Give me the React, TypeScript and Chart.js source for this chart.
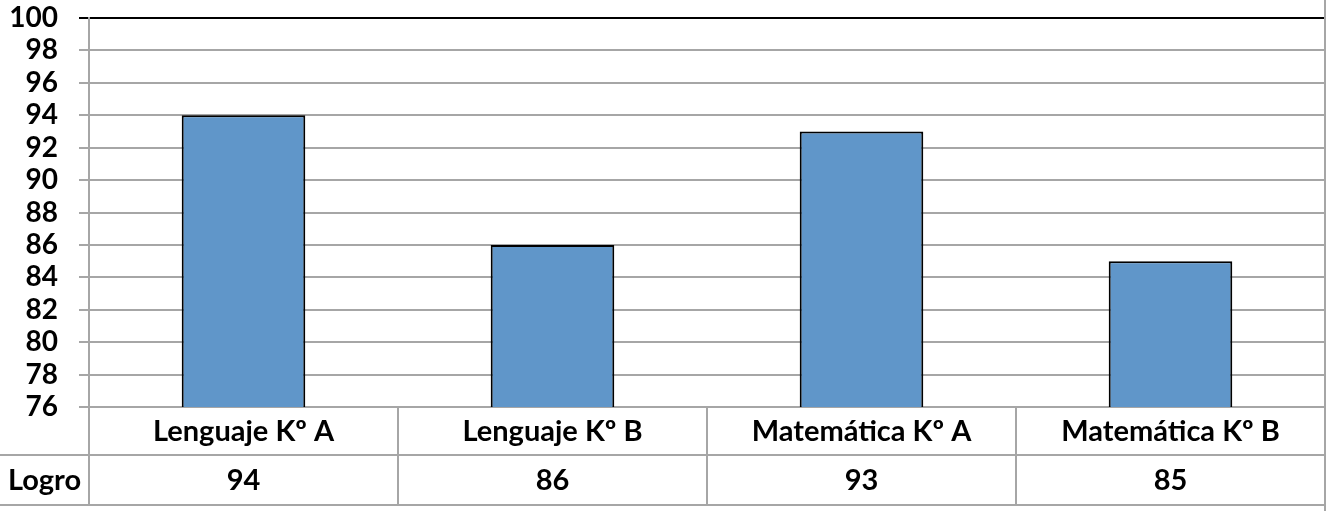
import React, { useEffect, useRef } from "react";
import { Chart, registerables } from "chart.js";

Chart.register(...registerables);

const categories = ["Lenguaje Kº A", "Lenguaje Kº B", "Matemática Kº A", "Matemática Kº B"];
const seriesName = "Logro";
const logro = [94, 86, 93, 85];
const yMin = 76;
const yMax = 100;
const yStep = 2;

const FONT = "Lato, 'Noto Sans', sans-serif";
const GRID = "#A6A6A6";

const dataTablePlugin = {
  id: "dataTable",
  afterDraw(chart: any) {
    const { ctx, chartArea } = chart;
    const xs = chart.scales.x;
    const n = categories.length;
    const centers = categories.map((_, i) => xs.getPixelForValue(i));
    const bounds: number[] = [chartArea.left];
    for (let i = 0; i < n - 1; i++) bounds.push((centers[i] + centers[i + 1]) / 2);
    bounds.push(chartArea.right);
    const top = chartArea.bottom;
    const row1 = top + 48;
    const row2 = row1 + 50;
    ctx.save();
    ctx.strokeStyle = GRID;
    ctx.lineWidth = 2;
    ctx.beginPath();
    ctx.moveTo(0, row1);
    ctx.lineTo(chartArea.right, row1);
    ctx.moveTo(0, row2);
    ctx.lineTo(chartArea.right, row2);
    for (const b of bounds) {
      ctx.moveTo(b, top);
      ctx.lineTo(b, row2);
    }
    ctx.moveTo(chartArea.right, 0);
    ctx.lineTo(chartArea.right, chart.height);
    ctx.stroke();

    ctx.fillStyle = "#000";
    ctx.textAlign = "center";
    ctx.textBaseline = "middle";
    ctx.font = `bold 29px ${FONT}`;
    categories.forEach((c, i) => ctx.fillText(c, centers[i], (top + row1) / 2 + 1));
    logro.forEach((v, i) => ctx.fillText(String(v), centers[i], (row1 + row2) / 2 + 1));
    ctx.fillText(seriesName, chartArea.left / 2, (row1 + row2) / 2 + 1);
    ctx.restore();
  },
};

export default function App() {
  const ref = useRef<HTMLCanvasElement>(null);
  useEffect(() => {
    document.body.style.margin = "0";
    const chart = new Chart(ref.current!, {
      type: "bar",
      data: {
        labels: categories,
        datasets: [
          {
            label: seriesName,
            data: logro,
            backgroundColor: "#6096C9",
            borderColor: "#000000",
            borderWidth: 2,
            barPercentage: 0.4,
            categoryPercentage: 1,
          },
        ],
      },
      options: {
        responsive: false,
        animation: false,
        layout: { padding: { top: 18, right: 10, bottom: 104, left: 0 } },
        plugins: { legend: { display: false }, tooltip: { enabled: false } },
        scales: {
          x: { display: false },
          y: {
            min: yMin,
            max: yMax,
            afterFit(scale: any) {
              scale.width = 89;
              scale.paddingTop = 0;
              scale.paddingBottom = 0;
            },
            ticks: {
              stepSize: yStep,
              autoSkip: false,
              color: "#000",
              padding: 21,
              font: { family: FONT, size: 28, weight: "bold" },
            },
            grid: {
              color: (c: any) => (c.tick && c.tick.value === yMax ? "#000" : GRID),
              lineWidth: 2,
              tickLength: 10,
            },
            border: { color: GRID, width: 2 },
          },
        },
      },
      plugins: [dataTablePlugin],
    });
    return () => chart.destroy();
  }, []);
  return (
    <div style={{ position: "absolute", left: 0, top: 0, width: 1335, height: 511, background: "#fff" }}>
      <canvas ref={ref} width={1335} height={511} style={{ width: 1335, height: 511 }} />
    </div>
  );
}
